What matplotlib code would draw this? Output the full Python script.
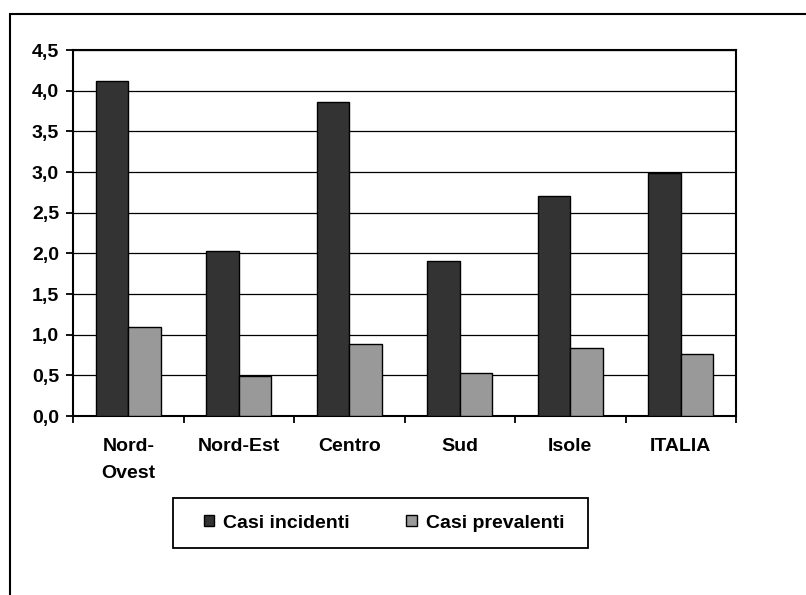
import matplotlib
matplotlib.use("Agg")
import matplotlib.pyplot as plt
from matplotlib.patches import Patch, Rectangle
import numpy as np

categories = ["Nord-\nOvest", "Nord-Est", "Centro", "Sud", "Isole", "ITALIA"]
casi_incidenti = [4.12, 2.03, 3.86, 1.91, 2.70, 2.99]
casi_prevalenti = [1.10, 0.49, 0.88, 0.53, 0.83, 0.76]
series_names = ["Casi incidenti", "Casi prevalenti"]
y_ticks = [0.0, 0.5, 1.0, 1.5, 2.0, 2.5, 3.0, 3.5, 4.0, 4.5]
y_labels = ["0,0", "0,5", "1,0", "1,5", "2,0", "2,5", "3,0", "3,5", "4,0", "4,5"]

plt.rcParams['font.family'] = ['Liberation Sans', 'DejaVu Sans']
plt.rcParams['font.weight'] = 'bold'
FS = 14

W, H = 806, 595
fig = plt.figure(figsize=(W / 100, H / 100), dpi=100)

# outer frame
fig.patches.append(Rectangle((10 / W, -0.1), 1.2, (1 - 14 / H) + 0.1,
                             transform=fig.transFigure, fill=False,
                             edgecolor='black', linewidth=1.5))

ax = fig.add_axes([73 / W, 1 - 416 / H, (736 - 73) / W, (416 - 50) / H])

x = np.arange(len(categories))
bw = 0.294
ax.bar(x - bw / 2, casi_incidenti, bw, color='#333333', edgecolor='black',
       linewidth=1.0, zorder=3, label=series_names[0])
ax.bar(x + bw / 2, casi_prevalenti, bw, color='#999999', edgecolor='black',
       linewidth=1.0, zorder=3, label=series_names[1])

ax.set_xlim(-0.5, len(categories) - 0.5)
ax.set_ylim(0, 4.5)
ax.set_yticks(y_ticks)
ax.set_yticklabels(y_labels, fontsize=FS, fontweight='bold')
for yv in y_ticks[1:]:
    ax.axhline(yv, color='black', linewidth=0.9, zorder=1)

ax.set_xticks(np.arange(-0.5, len(categories), 1.0))
ax.set_xticklabels([])
ax.set_xticks(x, minor=True)
ax.set_xticklabels(categories, minor=True, fontsize=FS, fontweight='bold',
                   linespacing=1.75)
ax.tick_params(axis='x', which='minor', length=0, pad=16)
ax.tick_params(axis='x', which='major', length=5, width=1.3, direction='out')
ax.tick_params(axis='y', length=5, width=1.3, direction='out', pad=5)

for s in ax.spines.values():
    s.set_linewidth(1.5)
    s.set_color('black')

# legend frame drawn explicitly
fig.patches.append(Rectangle((173 / W, 1 - 548 / H), (588 - 173) / W, 50 / H,
                             transform=fig.transFigure, fill=False,
                             edgecolor='black', linewidth=1.3))
handles = [Patch(facecolor='#333333', edgecolor='black', linewidth=1.0),
           Patch(facecolor='#999999', edgecolor='black', linewidth=1.0)]
leg = fig.legend(handles, series_names, loc='center',
                 bbox_to_anchor=(384 / W, 1 - 523 / H), ncol=2,
                 frameon=False,
                 prop={'family': 'Liberation Sans', 'weight': 'bold', 'size': FS},
                 handlelength=0.55, handleheight=0.55, handletextpad=0.45,
                 columnspacing=2.9, borderpad=0, borderaxespad=0)

fig.savefig("out.png", dpi=100)
